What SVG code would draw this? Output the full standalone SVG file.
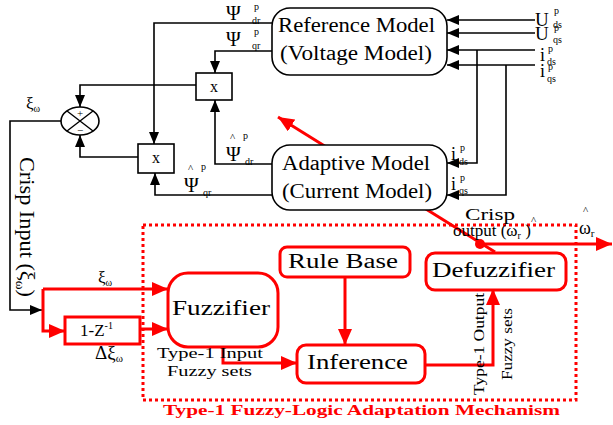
<svg xmlns="http://www.w3.org/2000/svg" width="613" height="425" viewBox="0 0 613 425">
<style>
text{font-family:"Liberation Serif","Times New Roman",serif;fill:#000}
.blk{fill:none;stroke:#000;stroke-width:1.6}
.red{fill:none;stroke:#f00;stroke-width:3}
.box{fill:#fff;stroke:#000;stroke-width:1.6}
.rbox{fill:#fff;stroke:#f00;stroke-width:3}
.sub{font-size:10px}
.lbl{font-size:20px}
</style>
<defs>
<marker id="ab" markerUnits="userSpaceOnUse" markerWidth="12" markerHeight="10" refX="12" refY="5" orient="auto"><path d="M0,0L12,5L0,10z" fill="#000"/></marker>
<marker id="ar" markerUnits="userSpaceOnUse" markerWidth="16" markerHeight="14" refX="16" refY="7" orient="auto"><path d="M0,0L16,7L0,14z" fill="#f00"/></marker>
</defs>
<g id="connectors">
<path class="blk" d="M535,20H447" marker-end="url(#ab)"/>
<path class="blk" d="M535,33H447" marker-end="url(#ab)"/>
<path class="blk" d="M535,50H447" marker-end="url(#ab)"/>
<path class="blk" d="M535,65H447" marker-end="url(#ab)"/>
<path class="blk" d="M477,50V163H447" marker-end="url(#ab)"/>
<path class="blk" d="M506,65V195H447" marker-end="url(#ab)"/>
<path class="blk" d="M272,23H154V144" marker-end="url(#ab)"/>
<path class="blk" d="M272,51H215V73" marker-end="url(#ab)"/>
<path class="blk" d="M196,85H80V107" marker-end="url(#ab)"/>
<path class="blk" d="M138,157H80V135" marker-end="url(#ab)"/>
<path class="blk" d="M272,164H215V100" marker-end="url(#ab)"/>
<path class="blk" d="M272,195H155V173" marker-end="url(#ab)"/>
<path class="blk" d="M61,121H10V310H42" marker-end="url(#ab)"/>
<path class="red" d="M495,252L278,117" marker-end="url(#ar)"/>
<path class="red" d="M43,289V331H65" marker-end="url(#ar)"/>
<path class="red" d="M43,289H168" marker-end="url(#ar)"/>
<path class="red" d="M140,329H168" marker-end="url(#ar)"/>
<path class="red" d="M345,277V345" marker-end="url(#ar)"/>
<path class="red" d="M223,347V363H297" marker-end="url(#ar)"/>
<path class="red" d="M425,365H493V289" marker-end="url(#ar)"/>
<path class="red" d="M480,244H612" marker-end="url(#ar)"/>
<circle cx="480" cy="244" r="5" fill="#f00"/>
</g>
<rect x="143" y="225" width="433" height="175" fill="none" stroke="#f00" stroke-width="3" stroke-dasharray="3 3"/>
<g id="reference-model">
<rect class="box" x="272" y="8" width="175" height="67" rx="18"/>
<text x="278" y="32" font-size="20" textLength="157" lengthAdjust="spacingAndGlyphs">Reference Model</text>
<text x="280" y="60" font-size="20" textLength="152" lengthAdjust="spacingAndGlyphs">(Voltage Model)</text>
</g>
<g id="adaptive-model">
<rect class="box" x="272" y="145" width="175" height="65" rx="18"/>
<text x="282" y="170" font-size="20" textLength="148" lengthAdjust="spacingAndGlyphs">Adaptive Model</text>
<text x="282" y="198" font-size="20" textLength="150" lengthAdjust="spacingAndGlyphs">(Current Model)</text>
</g>
<g id="mult-top">
<rect class="box" x="196" y="73" width="36" height="27"/>
<text x="214" y="92" font-size="16" text-anchor="middle">x</text>
</g>
<g id="mult-bottom">
<rect class="box" x="138" y="144" width="36" height="29"/>
<text x="156" y="163" font-size="16" text-anchor="middle">x</text>
</g>
<g id="sum">
<ellipse cx="80" cy="121" rx="19" ry="14" fill="#fff" stroke="#000" stroke-width="1.6"/>
<path d="M67,111L93,131M93,111L67,131" stroke="#000" stroke-width="1.4"/>
<text x="80" y="117" font-size="11" text-anchor="middle">+</text>
<text x="80" y="134" font-size="11" text-anchor="middle">−</text>
</g>
<g id="delay">
<rect x="65" y="317" width="75" height="27" fill="#fff" stroke="#f00" stroke-width="3"/>
<text x="80" y="336" font-size="17">1-Z<tspan dy="-7" font-size="10">-1</tspan></text>
</g>
<g id="fuzzifier">
<rect class="rbox" x="168" y="273" width="110" height="74" rx="20"/>
<text x="172" y="315" font-size="22" textLength="98" lengthAdjust="spacingAndGlyphs">Fuzzifier</text>
</g>
<g id="rule-base">
<rect class="rbox" x="280" y="247" width="130" height="30" rx="7"/>
<text x="288" y="268" font-size="20" textLength="110" lengthAdjust="spacingAndGlyphs">Rule Base</text>
</g>
<g id="inference">
<rect class="rbox" x="297" y="345" width="128" height="38" rx="9"/>
<text x="307" y="369" font-size="21" textLength="101" lengthAdjust="spacingAndGlyphs">Inference</text>
</g>
<g id="defuzzifier">
<rect class="rbox" x="426" y="253" width="140" height="37" rx="9"/>
<text x="432" y="277" font-size="21" textLength="123" lengthAdjust="spacingAndGlyphs">Defuzzifier</text>
</g>
<g id="labels">
<text x="226" y="20" class="lbl">Ψ</text><text x="254" y="10" class="sub">p</text><text x="252" y="24" class="sub">dr</text>
<text x="226" y="46" class="lbl">Ψ</text><text x="254" y="35" class="sub">p</text><text x="252" y="49" class="sub">qr</text>
<text x="230" y="141" font-size="11">^</text><text x="243" y="139" class="sub">p</text>
<text x="226" y="161" class="lbl">Ψ</text><text x="245" y="165" class="sub">dr</text>
<text x="188" y="172" font-size="11">^</text><text x="201" y="170" class="sub">p</text>
<text x="184" y="192" class="lbl">Ψ</text><text x="203" y="196" class="sub">qr</text>
<text x="535" y="26" font-size="19">U</text><text x="554" y="14" class="sub">p</text><text x="553" y="28" class="sub">ds</text>
<text x="535" y="40" font-size="19">U</text><text x="554" y="31" class="sub">p</text><text x="553" y="43" class="sub">qs</text>
<text x="540" y="61" font-size="18">i</text><text x="548" y="52" class="sub">p</text><text x="547" y="65" class="sub">ds</text>
<text x="540" y="77" font-size="18">i</text><text x="548" y="70" class="sub">p</text><text x="547" y="82" class="sub">qs</text>
<text x="451" y="160" font-size="18">i</text><text x="460" y="151" class="sub">p</text><text x="459" y="165" class="sub">ds</text>
<text x="451" y="190" font-size="18">i</text><text x="460" y="181" class="sub">p</text><text x="459" y="194" class="sub">qs</text>
<text x="26" y="109" font-size="17">ξ<tspan font-size="10" dy="3">ω</tspan></text>
<text transform="translate(20,157) rotate(90)" font-size="20" textLength="140" lengthAdjust="spacingAndGlyphs">Crisp Input (ξ<tspan font-size="12" dy="4">ω</tspan><tspan dy="-4">)</tspan></text>
<text x="98" y="283" font-size="17">ξ<tspan font-size="10" dy="3">ω</tspan></text>
<text x="95" y="359" font-size="19">Δξ<tspan font-size="11" dy="3">ω</tspan></text>
<text x="157" y="358" font-size="15" textLength="106" lengthAdjust="spacingAndGlyphs">Type-1 Input</text>
<text x="167" y="376" font-size="15" textLength="85" lengthAdjust="spacingAndGlyphs">Fuzzy sets</text>
<text transform="translate(484,395) rotate(-90)" font-size="15" textLength="102" lengthAdjust="spacingAndGlyphs">Type-1 Output</text>
<text transform="translate(512,380) rotate(-90)" font-size="15" textLength="72" lengthAdjust="spacingAndGlyphs">Fuzzy sets</text>
<text x="465" y="220" font-size="17" textLength="50" lengthAdjust="spacingAndGlyphs">Crisp</text>
<text x="453" y="236" font-size="17">output (ω<tspan font-size="10" dy="3">r</tspan><tspan dy="-3"> )</tspan></text>
<text x="531" y="224" font-size="11">^</text>
<text x="579" y="234" font-size="18">ω<tspan font-size="11" dy="3">r</tspan></text>
<text x="583" y="214" font-size="11">^</text>
<text x="163" y="415" font-size="14" font-weight="bold" style="fill:#f00" textLength="397" lengthAdjust="spacingAndGlyphs">Type-1 Fuzzy-Logic Adaptation Mechanism</text>
</g>
</svg>
